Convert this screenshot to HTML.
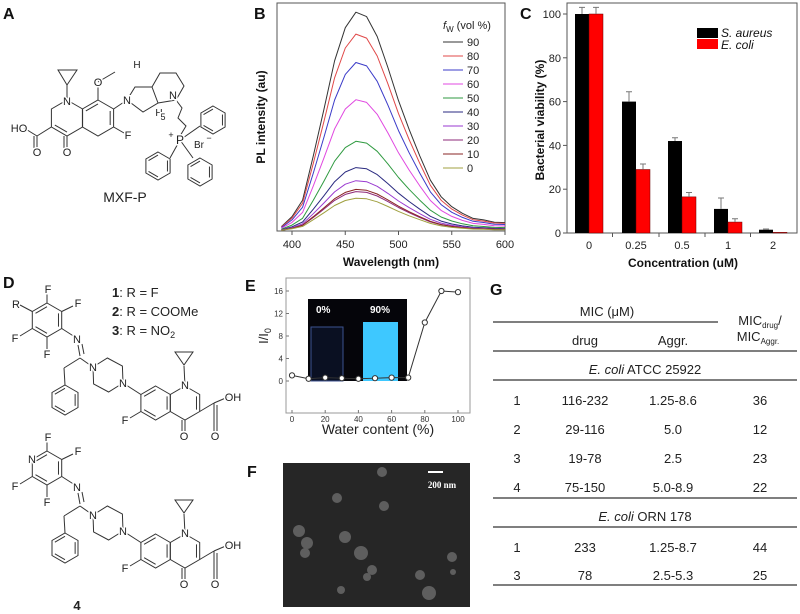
<!DOCTYPE html>
<html><head><meta charset="utf-8">
<style>
html,body{margin:0;padding:0;background:#fff;}
svg{display:block;font-family:"Liberation Sans",sans-serif;}
.lbl{paint-order:stroke;stroke:#fff;stroke-width:3px;}
</style></head>
<body>
<svg id="fig" width="800" height="614" viewBox="0 0 800 614">
  <g id="panelA"></g>
  <g id="panelB"></g>
  <g id="panelC"></g>
  <g id="panelD"></g>
  <g id="panelE"></g>
  <g id="panelF"></g>
  <g id="panelG"></g>
</svg>
<script>
// ---------- Panel B data ----------
const wavelengths = [390,400,410,420,430,440,450,460,470,480,490,500,510,520,530,540,550,560,570,580,590,600];
const profile90 = [2,6.5,14,34,55,77,92,99,97,88,74,59,46,34,23,15.5,11,8,5.7,5,4,3.8];
const fwLevels = ['90','80','70','60','50','40','30','20','10','0'];
const peakScale = [1.0,0.9,0.77,0.6,0.41,0.29,0.23,0.18,0.19,0.15];
const fwColors = ['#333333','#e04848','#3b3bc8','#e048e0','#2f9a40','#2a2a80','#9a3ad0','#8e2a78','#8a2424','#a0a040'];
const bXTicks = [400,450,500,550,600];
// ---------- Panel C data ----------
const concCats = ['0','0.25','0.5','1','2'];
const saureus = [100,60,42,11,1.5];
const saureusErr = [3,4.5,1.5,5,0.3];
const ecoli = [100,29,16.5,5,0.3];
const ecoliErr = [3,2.5,2,1.5,0];
const cYTicks = [0,20,40,60,80,100];
// ---------- Panel E data ----------
const waterContent = [0,10,20,30,40,50,60,70,80,90,100];
const intensityRatio = [1,0.4,0.6,0.5,0.4,0.5,0.6,0.6,10.4,16,15.8];
const eXTicks = [0,20,40,60,80,100];
const eYTicks = [0,4,8,12,16];

const NS='http://www.w3.org/2000/svg';
function mk(tag, attrs, parent, txt){
  const e=document.createElementNS(NS,tag);
  for(const k in attrs) e.setAttribute(k,attrs[k]);
  if(txt!==undefined) e.textContent=txt;
  parent.appendChild(e); return e;
}
const A=document.getElementById('panelA'), B=document.getElementById('panelB'), C=document.getElementById('panelC');
const D=document.getElementById('panelD'), E=document.getElementById('panelE'), F=document.getElementById('panelF'), G=document.getElementById('panelG');

function panelLetter(p, ch, x, y){
  const t=mk('text',{x:x,y:y,'font-size':16,'font-weight':'bold',fill:'#111'},p,ch);
  
  
}

// ================= Panel B =================
panelLetter(B,'B',254,19);
const bx = w => 292 + (w-400)*213/200;
const by = v => 231 - v*221/100;
let el=mk('rect',{x:277,y:3,width:228,height:228,fill:'none',stroke:'#555','stroke-width':1},B);


fwLevels.forEach((lv,i)=>{
  const pts=wavelengths.map((w,j)=>bx(w).toFixed(1)+','+by(profile90[j]*peakScale[i]).toFixed(1)).join(' ');
  const pl=mk('polyline',{points:pts,fill:'none',stroke:fwColors[i],'stroke-width':1,'stroke-linejoin':'round'},B);
  
  
  const ly=42+i*14;
  const ll=mk('line',{x1:443,y1:ly,x2:463,y2:ly,stroke:fwColors[i],'stroke-width':1},B);
  
  
  const lt=mk('text',{x:467,y:ly+4,'font-size':11,fill:'#222'},B,lv);
  
  
});
el=mk('text',{x:443,y:29,'font-size':11,fill:'#222'},B);


el.innerHTML='<tspan font-style="italic">f</tspan><tspan font-size="8" dy="3">W</tspan><tspan dy="-3"> (vol %)</tspan>';
bXTicks.forEach(v=>{
  const x=bx(v);
  const tk=mk('line',{x1:x,y1:231,x2:x,y2:235,stroke:'#555'},B);
  
  
  const tl=mk('text',{x:x,y:248,'font-size':11,'text-anchor':'middle',fill:'#222'},B,String(v));
  
  
});
el=mk('text',{x:391,y:266,'font-size':12,'font-weight':'bold','text-anchor':'middle',fill:'#111'},B,'Wavelength (nm)');


el=mk('text',{x:0,y:0,'font-size':12,'font-weight':'bold','text-anchor':'middle',fill:'#111',transform:'translate(265,117) rotate(-90)'},B,'PL intensity (au)');



// ================= Panel C =================
panelLetter(C,'C',520,19);
const cy = v => 233 - v*219/100;
const catX = [589,636,682,728,773];
el=mk('rect',{x:567,y:3,width:230,height:230,fill:'none',stroke:'#555'},C);


cYTicks.forEach(v=>{
  const tk=mk('line',{x1:563,y1:cy(v),x2:567,y2:cy(v),stroke:'#555'},C);
  
  
  const tl=mk('text',{x:561,y:cy(v)+4,'font-size':11,'text-anchor':'end',fill:'#222'},C,String(v));
  
  
});
concCats.forEach((c,i)=>{
  const x=catX[i];
  const b1=mk('rect',{x:x-14,y:cy(saureus[i]),width:14,height:233-cy(saureus[i]),fill:'#000'},C);
  
  
  const b2=mk('rect',{x:x,y:cy(ecoli[i]),width:14,height:233-cy(ecoli[i]),fill:'#f00',stroke:'#600','stroke-width':0.5},C);
  
  
  [[x-7,saureus[i],saureusErr[i]],[x+7,ecoli[i],ecoliErr[i]]].forEach(([ex,v,e])=>{
    if(e<=0) return;
    const eb=mk('path',{d:`M${ex},${cy(v)} V${cy(v+e)} M${ex-3},${cy(v+e)} H${ex+3}`,stroke:'#777','stroke-width':1,fill:'none'},C);
    
    
  });
  const tl=mk('text',{x:x,y:249,'font-size':11,'text-anchor':'middle',fill:'#222'},C,c);
  
  
  if(i<concCats.length-1){
    const tk=mk('line',{x1:(x+catX[i+1])/2,y1:233,x2:(x+catX[i+1])/2,y2:237,stroke:'#555'},C);
    
    
  }
});
el=mk('rect',{x:697,y:28,width:21,height:10,fill:'#000'},C);


el=mk('rect',{x:697,y:39,width:21,height:10,fill:'#f00'},C);


el=mk('text',{x:721,y:37,'font-size':12,'font-style':'italic',fill:'#111'},C,'S. aureus');


el=mk('text',{x:721,y:49,'font-size':12,'font-style':'italic',fill:'#111'},C,'E. coli');


el=mk('text',{x:683,y:267,'font-size':12,'font-weight':'bold','text-anchor':'middle',fill:'#111'},C,'Concentration (uM)');


el=mk('text',{x:0,y:0,'font-size':12,'font-weight':'bold','text-anchor':'middle',fill:'#111',transform:'translate(544,120) rotate(-90)'},C,'Bacterial viability (%)');



// ================= Structures helpers =================
function hexPts(cx,cy,r){const p=[];for(let i=0;i<6;i++){const a=(-90+60*i)*Math.PI/180;p.push([cx+r*Math.cos(a),cy+r*Math.sin(a)]);}return p;}
function ring(p,cx,cy,r,name,inner){
  const pts=hexPts(cx,cy,r);
  const e=mk('polygon',{points:pts.map(q=>q[0].toFixed(1)+','+q[1].toFixed(1)).join(' '),fill:'none',stroke:'#333','stroke-width':1},p);
  
  
  (inner||[1,3,5]).forEach(i=>{
    const a=pts[i],b=pts[(i+1)%6];
    const s=0.78, ax=cx+(a[0]-cx)*s, ay=cy+(a[1]-cy)*s, bx2=cx+(b[0]-cx)*s, by2=cy+(b[1]-cy)*s;
    const l=mk('line',{x1:ax,y1:ay,x2:bx2,y2:by2,stroke:'#333','stroke-width':1},p);
    
    
  });
  return pts;
}
function bond(p,x1,y1,x2,y2){
  const e=mk('line',{x1:x1,y1:y1,x2:x2,y2:y2,stroke:'#333','stroke-width':1},p);
  
  
}
function poly(p,pts,closed){
  const e=mk(closed?'polygon':'polyline',{points:pts.map(q=>q[0].toFixed(1)+','+q[1].toFixed(1)).join(' '),stroke:'#333','stroke-width':1,fill:'none'},p);
  
  
}
function atom(p,t,x,y,fs){
  const e=mk('text',{x:x,y:y+4,'font-size':fs||11,'text-anchor':'middle',fill:'#222',class:'lbl'},p,t);
  
  
  return e;
}

// ================= Panel A =================
panelLetter(A,'A',3,19);
{
  ring(A,67,118,18,'quinolone-ring-left',[3]);
  ring(A,98,118,18,'quinolone-ring-right',[1,5]);
  bond(A,67,100,67,85); poly(A,[[58,70],[77,70],[67,85]],true);
  bond(A,98,100,98,86); poly(A,[[98,82],[115,72]]);
  bond(A,113.6,109,127,100);
  poly(A,[[127,100],[135,87],[152,87],[158,103],[143,112]],true);
  poly(A,[[152,87],[160,73],[176,73],[184,86],[176,100],[158,103]]);
  bond(A,113.6,127,124,133);
  bond(A,51.4,127,37,136); bond(A,37,136,37,148); bond(A,34,136,34,148); bond(A,37,136,24,128);
  bond(A,67,136,67,148); bond(A,64,136,64,148);
  poly(A,[[176,100],[182,108],[178,118],[186,126],[180,136]]);
  ring(A,213,120,14,'phenyl-ring'); ring(A,158,166,14,'phenyl-ring'); ring(A,200,172,14,'phenyl-ring');
  bond(A,180,140,200,126); bond(A,180,140,170,158); bond(A,180,140,193,158);
  atom(A,'N',67,101); atom(A,'O',98,82); atom(A,'N',127,100); atom(A,'F',128,135);
  atom(A,'O',37,152); atom(A,'O',67,152); atom(A,'HO',19,128);
  atom(A,'H',137,64,10); atom(A,'H',159,112,10); atom(A,'N',173,95);
  atom(A,'5',163,116,9); atom(A,'P',180,140,12); atom(A,'+',171,134,9); atom(A,'Br',199,144,10); atom(A,'−',209,137,9);
  el=mk('text',{x:125,y:202,'font-size':14,'text-anchor':'middle',fill:'#222'},A,'MXF-P');
  
  
}

// ================= Panel D =================
panelLetter(D,'D',3,288);
function drawCompound(dy, pyridine){
  const P=ring(D,47,320+dy,17,pyridine?'pyridine-ring':'pentafluorophenyl-ring');
  bond(D,P[0][0],P[0][1],47,294+dy);
  bond(D,P[1][0],P[1][1],73,306+dy);
  bond(D,P[4][0],P[4][1],20,336+dy);
  bond(D,P[3][0],P[3][1],47,350+dy);
  if(!pyridine) bond(D,P[5][0],P[5][1],20,305+dy);
  bond(D,P[2][0],P[2][1],75,337+dy);
  bond(D,78,345+dy,80,356+dy); bond(D,82,344+dy,84,354+dy);
  bond(D,80,358+dy,64,368+dy); bond(D,64,368+dy,65,385+dy);
  ring(D,65,400+dy,15,'benzene-ring');
  bond(D,80,358+dy,90,365+dy);
  const pc=[108,375+dy], pp=[];
  for(let k=0;k<6;k++){const a=(208+60*k)*Math.PI/180;pp.push([pc[0]+17*Math.cos(a),pc[1]+17*Math.sin(a)]);}
  poly(D,pp,true);
  ring(D,155.6,403+dy,17,'quinolone-ring-left',[1,3,5]);
  ring(D,185,403+dy,17,'quinolone-ring-right',[1]);
  bond(D,123,383+dy,140.9,394.5+dy);
  bond(D,140.9,411.5+dy,130,418+dy);
  bond(D,185,386+dy,184,366+dy);
  poly(D,[[175,352+dy],[193,352+dy],[184,365+dy]],true);
  bond(D,185,420+dy,185,431+dy); bond(D,182,420+dy,182,431+dy);
  bond(D,199.7,411.5+dy,214,403+dy); bond(D,214,403+dy,214,431+dy); bond(D,217,405+dy,217,431+dy); bond(D,214,403+dy,228,397+dy);
  atom(D,'F',48,289+dy); atom(D,'F',78,303+dy); atom(D,'F',15,338+dy); atom(D,'F',47,354+dy);
  if(pyridine) atom(D,'N',32,311+dy); else atom(D,'R',16,304+dy);
  atom(D,'N',77,339+dy); atom(D,'N',93,367+dy); atom(D,'N',123,383+dy); atom(D,'N',185,385+dy);
  atom(D,'F',125,420+dy); atom(D,'O',184,436+dy); atom(D,'O',215,436+dy); atom(D,'OH',233,397+dy);
}
drawCompound(0,false);
drawCompound(148,true);
[['1',': R = F',297],['2',': R = COOMe',316],['3',': R = NO',335]].forEach(([n,t,y])=>{
  const tx=mk('text',{x:112,y:y,'font-size':13,fill:'#222'},D);
  
  
  tx.innerHTML='<tspan font-weight="bold">'+n+'</tspan>'+t+(n==='3'?'<tspan font-size="9" dy="3">2</tspan>':'');
});
el=mk('text',{x:77,y:610,'font-size':13,'font-weight':'bold','text-anchor':'middle',fill:'#222'},D,'4');



// ================= Panel E =================
panelLetter(E,'E',245,291);
const ex = v => 292 + v*1.66;
const ey = v => 381 - v*90/16;
el=mk('rect',{x:286,y:278,width:184,height:135,fill:'none',stroke:'#999'},E);


el=mk('rect',{x:308,y:299,width:99,height:82,fill:'#05050a'},E);


el=mk('rect',{x:311,y:327,width:32,height:54,fill:'#0a1022',stroke:'#3c5290','stroke-width':1},E);


el=mk('rect',{x:363,y:322,width:35,height:59,fill:'#3ec8ff'},E);


el=mk('text',{x:316,y:313,'font-size':10,'font-weight':'bold',fill:'#fff'},E,'0%');


el=mk('text',{x:370,y:313,'font-size':10,'font-weight':'bold',fill:'#fff'},E,'90%');


eXTicks.forEach(v=>{
  const tk=mk('line',{x1:ex(v),y1:413,x2:ex(v),y2:410,stroke:'#777'},E);
  
  
  const tl=mk('text',{x:ex(v),y:422,'font-size':8,'text-anchor':'middle',fill:'#333'},E,String(v));
  
  
});
eYTicks.forEach(v=>{
  const tk=mk('line',{x1:286,y1:ey(v),x2:289,y2:ey(v),stroke:'#777'},E);
  
  
  const tl=mk('text',{x:283,y:ey(v)+3,'font-size':8,'text-anchor':'end',fill:'#333'},E,String(v));
  
  
});
el=mk('polyline',{points:waterContent.map((w,i)=>ex(w)+','+ey(intensityRatio[i])).join(' '),fill:'none',stroke:'#333','stroke-width':1},E);


waterContent.forEach((w,i)=>{
  const c=mk('circle',{cx:ex(w),cy:ey(intensityRatio[i]),r:2.6,fill:'#fff',stroke:'#333','stroke-width':1},E);
  
  
});
el=mk('text',{x:378,y:434,'font-size':14,'text-anchor':'middle',fill:'#222'},E,'Water content (%)');


el=mk('text',{x:0,y:0,'font-size':13,'text-anchor':'middle',fill:'#222',transform:'translate(268,336) rotate(-90)'},E);


el.innerHTML='I/I<tspan font-size="9" dy="3">0</tspan>';

// ================= Panel F =================
panelLetter(F,'F',247,477);
el=mk('rect',{x:283,y:463,width:187,height:144,fill:'#262626'},F);


[[382,472,5],[337,498,5],[384,506,5],[299,531,6],[307,543,6],[345,537,6],[361,553,7],[372,570,5],[367,577,4],[341,590,4],[420,575,5],[429,593,7],[452,557,5],[453,572,3],[305,553,5]].forEach(([x,y,r])=>{
  const c=mk('circle',{cx:x,cy:y,r:r,fill:'#5e5e5e'},F);
  
  
});
el=mk('line',{x1:428,y1:472,x2:443,y2:472,stroke:'#fff','stroke-width':2},F);


el=mk('text',{x:442,y:488,'font-size':9,'font-weight':'bold','text-anchor':'middle',fill:'#fff','font-family':'Liberation Serif,serif'},F,'200 nm');



// ================= Panel G =================
panelLetter(G,'G',490,295);
function hl(y,x1,x2){const l=mk('line',{x1:x1,y1:y,x2:x2,y2:y,stroke:'#333','stroke-width':1.3},G);}
function tt(t,x,y){const e=mk('text',{x:x,y:y,'font-size':13,'text-anchor':'middle',fill:'#222'},G);e.innerHTML=t;return e;}
hl(322,493,718); hl(351,493,797); hl(380,493,797); hl(498,493,797); hl(527,493,797); hl(585,493,797);
tt('MIC (μM)',607,316);
tt('drug',585,345); tt('Aggr.',673,345);
tt('MIC<tspan font-size="8" dy="3">drug</tspan><tspan dy="-3">/</tspan>',760,325);
tt('MIC<tspan font-size="8" dy="3">Aggr.</tspan>',758,341);
tt('<tspan font-style="italic">E. coli</tspan> ATCC 25922',645,374);
tt('<tspan font-style="italic">E. coli</tspan> ORN 178',645,521);
[['1','116-232','1.25-8.6','36',405],['2','29-116','5.0','12',434],['3','19-78','2.5','23',463],['4','75-150','5.0-8.9','22',492],
 ['1','233','1.25-8.7','44',552],['3','78','2.5-5.3','25',580]].forEach(r=>{
  tt(r[0],517,r[4]); tt(r[1],585,r[4]); tt(r[2],673,r[4]); tt(r[3],760,r[4]);
});
</script>
</body></html>
